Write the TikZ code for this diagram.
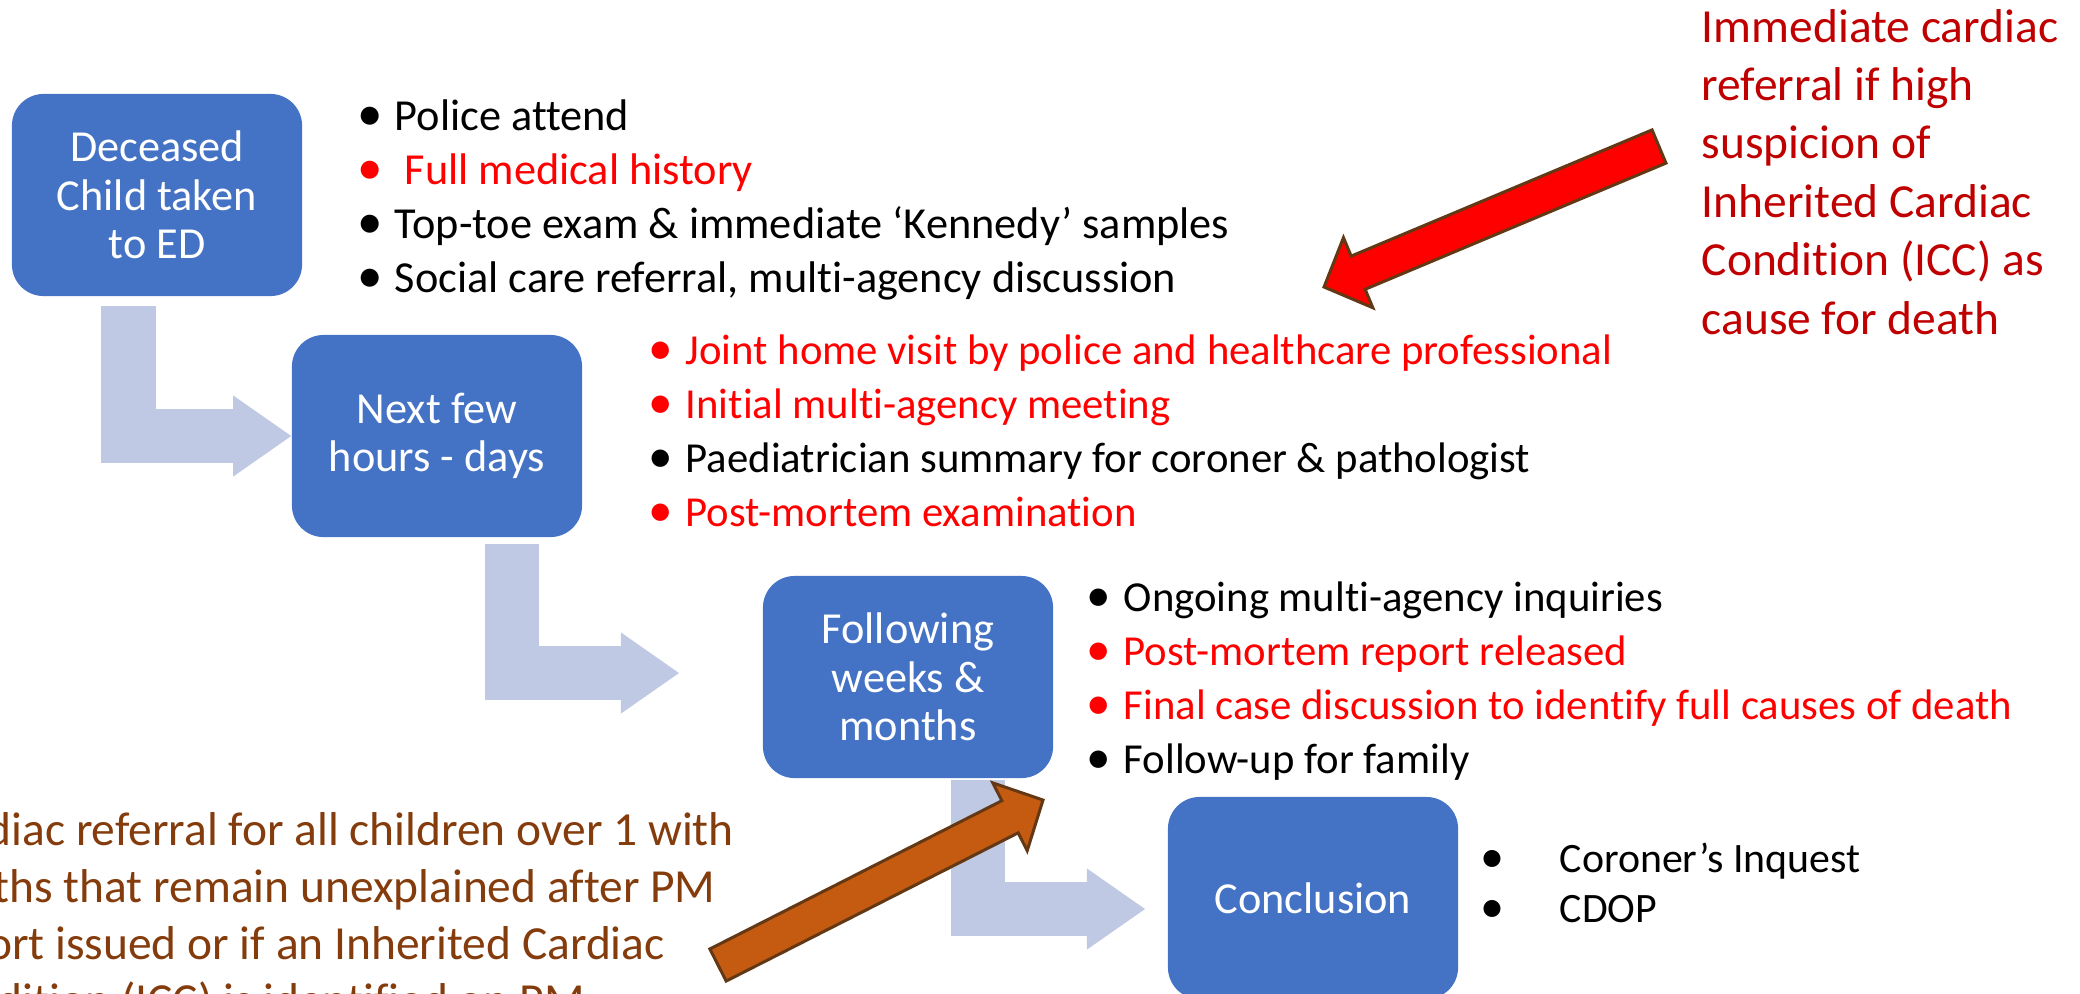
\documentclass[tikz,border=0pt]{standalone}
\usepackage{fontspec}
\setmainfont{Carlito}[Ligatures=NoCommon]
\usetikzlibrary{arrows.meta,calc}

\definecolor{boxblue}{HTML}{4472C4}
\definecolor{elbowblue}{RGB}{191,201,228}
\definecolor{itemred}{HTML}{FF0000}
\definecolor{notered}{HTML}{C00000}
\definecolor{notebrown}{HTML}{843C0C}
\definecolor{arroworange}{HTML}{C55A11}
\definecolor{arrowedge}{RGB}{99,56,20}

% bullet + text of one list line
\newcommand{\itm}[2][0.32cm]{\makebox[#1][l]{\kern-1.4pt\scalebox{1.15}{\textbullet}}#2}
% block arrow: style, tail centre, tip
\newcommand{\blockarrow}[3]{%
  \coordinate (h) at ($(#3)!0.37cm!(#2)$);
  \filldraw[#1] ($(#2)!0.18cm!90:(#3)$) -- ($(h)!0.18cm!90:(#3)$)
    -- ($(h)!0.38cm!90:(#3)$) -- (#3) -- ($(h)!0.38cm!-90:(#3)$)
    -- ($(h)!0.18cm!-90:(#3)$) -- ($(#2)!0.18cm!-90:(#3)$) -- cycle;}

\begin{document}
\begin{tikzpicture}[x=0.01cm, y=-0.01cm,
    stage/.style={rectangle, rounded corners=9pt, fill=boxblue, text=white,
      minimum width=2.9cm, minimum height=2.02cm, inner sep=0pt, align=center,
      font=\fontsize{12.6}{13.8}\selectfont},
    elbow/.style={draw=elbowblue, line width=0.54cm,
      -{Triangle[line width=0pt, length=0.58cm 0 0, width=0.81cm 0 0]}},
    itemtext/.style={anchor=base west, inner sep=0pt, font=\fontsize{12.6}{15}\selectfont},
    smallitem/.style={itemtext, font=\fontsize{12.15}{15}\selectfont},
    note/.style={anchor=base west, inner sep=0pt, font=\fontsize{13.5}{16}\selectfont},
    redarrow/.style={fill=red, draw=arrowedge, line width=0.85pt},
    orangearrow/.style={fill=arroworange, draw=arrowedge, line width=0.85pt}]

  % fixed frame, pixels of the slide
  \useasboundingbox (0,0) rectangle (2080,993);
  \clip (0,0) rectangle (2080,993);

  % --- STAGES ---
  \node[stage] (deceased) at (157,195) {Deceased\\Child taken\\to ED};
  \node[stage] (nextdays) at (437,436) {Next few\\hours - days};
  \node[stage] (weeks) at (908,677) {Following\\weeks \&\\months};
  \node[stage] (conclusion) at (1313,898) {Conclusion};

  % --- BENT ARROWS ---
  \coordinate (bend1) at (128.5,306);
  \coordinate (bend2) at (512,544);
  \coordinate (tip2) at (679,673);
  \coordinate (bend3) at (978,780);
  \coordinate (tip3) at (1145,909);
  \draw[elbow] (bend1) |- (nextdays.west);
  \draw[elbow] (bend2) |- (tip2);
  \draw[elbow] (bend3) |- (tip3);

  % --- LISTS ---
  \foreach \txt/\col [count=\k from 0] in {{Police attend}/black,
      {\ Full medical history}/itemred,
      {Top-toe exam \& immediate ‘Kennedy’ samples}/black,
      {Social care referral, multi-agency discussion}/black}
    \node[itemtext, text=\col] (ed\k) at (362,{130+54.3*\k}) {\itm{\txt}};
  \foreach \txt/\col [count=\k from 0] in {{Joint home visit by police and healthcare professional}/itemred,
      {Initial multi-agency meeting}/itemred,
      {Paediatrician summary for coroner \& pathologist}/black,
      {Post-mortem examination}/itemred}
    \node[smallitem, text=\col] (days\k) at (653,{364+54.3*\k}) {\itm{\txt}};
  \foreach \txt/\col [count=\k from 0] in {{Ongoing multi-agency inquiries}/black,
      {Post-mortem report released}/itemred,
      {Final case discussion to identify full causes of death}/itemred,
      {Follow-up for family}/black}
    \node[smallitem, text=\col] (weeks\k) at (1091,{611+54.3*\k}) {\itm{\txt}};
  \foreach \txt [count=\k from 0] in {Coroner’s Inquest, CDOP}
    \node[itemtext, font=\fontsize{11.9}{14}\selectfont] (concl\k) at (1485,{872+50*\k}) {\itm[0.74cm]{\txt}};

  % --- CARDIAC NOTES ---
  \foreach \txt [count=\k from 0] in {Immediate cardiac, referral if high, suspicion of,
      Inherited Cardiac, Condition (ICC) as, cause for death}
    \node[note, text=notered] (icc\k) at (1701,{42+58.4*\k}) {\txt};
  \foreach \txt [count=\k from 0] in {Cardiac referral for all children over 1 with,
      deaths that remain unexplained after PM, report issued or if an Inherited Cardiac,
      Condition (ICC) is identified on PM}
    \node[note, text=notebrown] (pm\k) at (-78,{845+57*\k}) {\txt};

  % --- BLOCK ARROWS ---
  \coordinate (redtail) at (1659,146.5);
  \coordinate (redtip) at (1324,287);
  \coordinate (orangetail) at (718,965);
  \coordinate (orangetip) at (1043,800);
  \blockarrow{redarrow}{redtail}{redtip}
  \blockarrow{orangearrow}{orangetail}{orangetip}
\end{tikzpicture}
\end{document}
